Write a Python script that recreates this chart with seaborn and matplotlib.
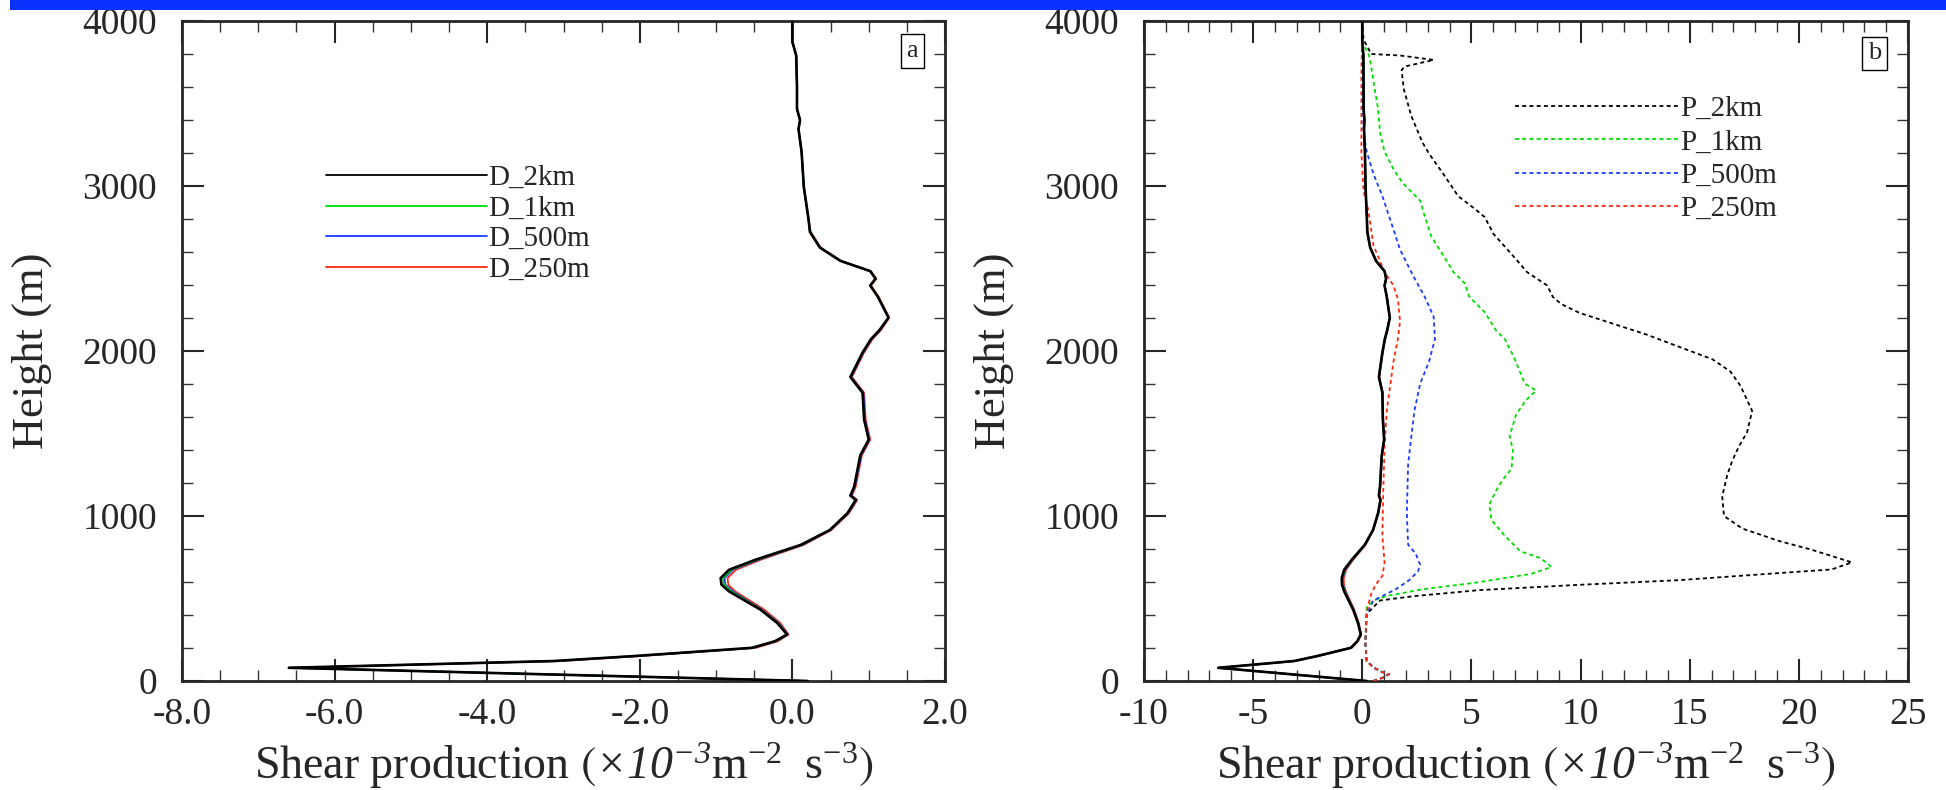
import matplotlib
matplotlib.use('Agg')
import matplotlib.pyplot as plt
from matplotlib.ticker import MultipleLocator, FormatStrFormatter
from matplotlib.patches import Rectangle
import seaborn as sns

# --- data ------------------------------------------------------------------
# D_* : dissipation-type profiles (solid), shared by both panels
d_height = [0, 80, 121, 151, 201, 241, 282, 352, 433, 543, 584, 624, 674, 734,
            825, 915, 1016, 1097, 1124, 1178, 1368, 1463, 1585, 1747, 1842,
            1991, 2072, 2126, 2202, 2329, 2397, 2438, 2484, 2546, 2627, 2722,
            2803, 2993, 3209, 3345, 3400, 3467, 3602, 3791, 3873, 4000]
d_2km = [0.20, -6.60, -3.13, -2.08, -0.53, -0.23, -0.07, -0.20, -0.42, -0.83,
         -0.93, -0.94, -0.83, -0.49, 0.11, 0.49, 0.72, 0.83, 0.76, 0.81, 0.89,
         1.00, 0.94, 0.92, 0.76, 0.92, 1.03, 1.14, 1.26, 1.12, 1.02, 1.09,
         1.02, 0.63, 0.36, 0.23, 0.21, 0.15, 0.12, 0.08, 0.10, 0.06, 0.06,
         0.05, 0.00, 0.00]
d_1km = [0.20, -6.60, -3.12, -2.07, -0.52, -0.22, -0.07, -0.19, -0.41, -0.80,
         -0.90, -0.91, -0.80, -0.47, 0.12, 0.49, 0.72, 0.83, 0.76, 0.81, 0.89,
         1.00, 0.94, 0.92, 0.76, 0.92, 1.03, 1.14, 1.26, 1.12, 1.02, 1.09,
         1.02, 0.63, 0.36, 0.23, 0.21, 0.15, 0.12, 0.08, 0.10, 0.06, 0.06,
         0.05, 0.00, 0.00]
d_500m = [0.20, -6.58, -3.10, -2.05, -0.51, -0.21, -0.06, -0.18, -0.40, -0.78,
          -0.88, -0.89, -0.78, -0.45, 0.13, 0.50, 0.73, 0.84, 0.77, 0.82, 0.90,
          1.01, 0.95, 0.93, 0.77, 0.93, 1.04, 1.15, 1.26, 1.12, 1.02, 1.09,
          1.02, 0.63, 0.36, 0.23, 0.21, 0.15, 0.12, 0.08, 0.10, 0.06, 0.06,
          0.05, 0.00, 0.00]
d_250m = [0.20, -6.55, -3.05, -2.00, -0.48, -0.19, -0.05, -0.16, -0.37, -0.75,
          -0.84, -0.85, -0.74, -0.42, 0.15, 0.51, 0.74, 0.85, 0.78, 0.83, 0.91,
          1.02, 0.96, 0.94, 0.78, 0.94, 1.05, 1.16, 1.27, 1.13, 1.03, 1.10,
          1.03, 0.64, 0.37, 0.24, 0.21, 0.15, 0.12, 0.08, 0.10, 0.06, 0.06,
          0.05, 0.00, 0.00]

# P_* : production profiles (dashed), panel b only
p2km_height = [0, 19, 41, 54, 82, 122, 231, 406, 434, 488, 514, 551, 583, 611,
               654, 676, 719, 795, 849, 924, 1000, 1119, 1248, 1335, 1421, 1508,
               1637, 1788, 1875, 1950, 2026, 2101, 2166, 2231, 2285, 2328, 2397,
               2478, 2587, 2708, 2811, 2857, 2939, 3060, 3196, 3263, 3426, 3588,
               3702, 3724, 3764, 3791, 3800, 3886, 4000]
p_2km = [0.50, 0.92, 1.22, 0.92, 0.51, 0.20, 0.14, 0.20, 0.41, 0.81, 2.34, 5.38,
         9.95, 14.50, 19.08, 21.50, 22.43, 20.60, 19.08, 17.41, 16.57, 16.49,
         16.72, 16.95, 17.25, 17.63, 17.86, 17.33, 16.87, 16.04, 14.50, 12.99,
         11.47, 9.95, 9.11, 8.73, 8.47, 7.55, 6.84, 6.02, 5.61, 5.20, 4.39, 3.78,
         3.06, 2.76, 2.24, 1.90, 1.80, 1.94, 3.27, 1.73, 0.41, 0.06, 0.00]

p1km_height = [0, 19, 41, 54, 82, 122, 231, 406, 447, 488, 515, 556, 596, 650,
               691, 745, 786, 880, 975, 1070, 1151, 1219, 1287, 1400, 1486, 1616,
               1702, 1760, 1801, 1964, 2072, 2126, 2235, 2329, 2411, 2478, 2587,
               2695, 2817, 2911, 2966, 3020, 3101, 3209, 3318, 3480, 3602, 3724,
               3791, 3873, 4000]
p_1km = [0.50, 0.92, 1.22, 0.92, 0.51, 0.20, 0.14, 0.20, 0.20, 0.51, 1.12, 2.76,
         5.20, 7.76, 8.67, 8.16, 7.24, 6.53, 5.92, 5.82, 6.12, 6.43, 6.84, 6.90,
         6.75, 7.05, 7.50, 7.96, 7.45, 6.94, 6.53, 6.12, 5.61, 4.90, 4.69, 4.18,
         3.67, 3.16, 2.86, 2.65, 2.24, 1.84, 1.43, 1.02, 0.82, 0.71, 0.55, 0.41,
         0.31, 0.00, 0.00]

p500m_height = [0, 19, 41, 54, 82, 122, 231, 406, 488, 515, 556, 610, 664, 704,
                772, 826, 1016, 1314, 1476, 1639, 1801, 1937, 2072, 2208, 2329,
                2451, 2614, 2776, 2939, 3074, 3209, 3318, 3778, 4000]
p_500m = [0.50, 0.92, 1.22, 0.92, 0.51, 0.20, 0.14, 0.20, 0.51, 0.92, 1.53, 2.14,
          2.55, 2.65, 2.45, 2.10, 2.04, 2.10, 2.24, 2.39, 2.65, 3.06, 3.33, 3.27,
          2.86, 2.35, 1.73, 1.33, 0.92, 0.51, 0.20, 0.06, 0.00, 0.00]

p250m_height = [0, 19, 41, 54, 82, 122, 231, 406, 461, 528, 583, 637, 718, 880,
                1151, 1422, 1639, 1801, 1937, 2072, 2181, 2316, 2397, 2478, 2641,
                2857, 2966, 3200, 3724, 3859, 4000]
p_250m = [0.50, 0.92, 1.22, 0.92, 0.51, 0.20, 0.14, 0.20, 0.27, 0.41, 0.61, 0.92,
          1.02, 0.92, 0.96, 1.02, 1.12, 1.29, 1.43, 1.63, 1.73, 1.63, 1.43, 1.02,
          0.51, 0.27, 0.06, -0.04, -0.04, 0.00, 0.00]

d_labels = ['D_2km', 'D_1km', 'D_500m', 'D_250m']
p_labels = ['P_2km', 'P_1km', 'P_500m', 'P_250m']
colors = ['#000000', '#00dd00', '#1a3cff', '#ff2a10']

# --- style -------------------------------------------------------------------
sns.set_style('ticks')
serif = ['Liberation Serif', 'DejaVu Serif']
plt.rcParams['font.family'] = serif
# math: "rm" slot italic (digits follow it), upright letters via \mathsf
plt.rcParams['mathtext.fontset'] = 'custom'
plt.rcParams['mathtext.rm'] = 'Liberation Serif:italic'
plt.rcParams['mathtext.it'] = 'Liberation Serif:italic'
plt.rcParams['mathtext.sf'] = 'Liberation Serif'
plt.rcParams['mathtext.fallback'] = 'stix'

fig = plt.figure(figsize=(19.46, 7.90), dpi=100)
fig.patch.set_facecolor('white')
# blue strip along the top edge
fig.add_artist(Rectangle((10 / 1946, 1 - 10 / 790), 1, 10 / 790,
                         transform=fig.transFigure, color='#0a32ff', lw=0))

ax_a = fig.add_axes([182 / 1946, 109 / 790, 763 / 1946, 660 / 790])
ax_b = fig.add_axes([1144 / 1946, 109 / 790, 764 / 1946, 660 / 790])

dash = (0, (2.2, 1.8))
d_series = [d_2km, d_1km, d_500m, d_250m]
p_series = [(p2km_height, p_2km), (p1km_height, p_1km),
            (p500m_height, p_500m), (p250m_height, p_250m)]

for ax in (ax_a, ax_b):
    # colored first, black on top
    for i in [3, 2, 1, 0]:
        sns.lineplot(x=d_series[i], y=d_height, ax=ax, sort=False,
                     estimator=None, orient='y', color=colors[i],
                     lw=1.9 if i == 0 else 1.3, zorder=5 if i == 0 else 3,
                     label=d_labels[i] if ax is ax_a else None, legend=False)

for i, (h, v) in enumerate(p_series):
    sns.lineplot(x=v, y=h, ax=ax_b, sort=False, estimator=None, orient='y',
                 color=colors[i], lw=1.3, linestyle=dash, zorder=4,
                 label=p_labels[i], legend=False)

xlabel = (r'Shear production $\left(\times10^{-3}\mathsf{m}^{\mathsf{-2}}'
          r'\ \ \mathsf{s}^{\mathsf{-3}}\right)$')

for ax, (x0, x1), major, minor, fmt in [
        (ax_a, (-8, 2), 2, 0.5, '%.1f'),
        (ax_b, (-10, 25), 5, 1, '%d')]:
    ax.set_xlim(x0, x1)
    ax.set_ylim(0, 4000)
    ax.xaxis.set_major_locator(MultipleLocator(major))
    ax.xaxis.set_minor_locator(MultipleLocator(minor))
    ax.xaxis.set_major_formatter(FormatStrFormatter(fmt))
    ax.yaxis.set_major_locator(MultipleLocator(1000))
    ax.yaxis.set_minor_locator(MultipleLocator(200))
    ax.tick_params(which='both', direction='in', top=True, right=True)
    ax.tick_params(which='major', length=16, width=1.5, labelsize=27, pad=12)
    ax.tick_params(axis='y', which='major', pad=18)
    ax.tick_params(which='minor', length=8, width=1.0, color='#333333')
    for s in ax.spines.values():
        s.set_linewidth(2.0)
        s.set_visible(True)
    ax.set_xlabel(xlabel, fontsize=33, labelpad=6)
    ax.set_ylabel('Height (m)', fontsize=32, labelpad=22)
    ax.set_facecolor('white')

# legends: long handle, text right at the line end, no frame
h_a, l_a = ax_a.get_legend_handles_labels()
order = [l_a.index(n) for n in d_labels]
leg = ax_a.legend([h_a[k] for k in order], [l_a[k] for k in order],
                  loc='upper left', bbox_to_anchor=(0.189, 0.782),
                  frameon=False, fontsize=21, handlelength=5.5,
                  handletextpad=0.05, labelspacing=0.14, borderpad=0,
                  borderaxespad=0)
for line in leg.get_lines():
    line.set_linewidth(1.3)

h_b, l_b = ax_b.get_legend_handles_labels()
leg = ax_b.legend(h_b, l_b, loc='upper left', bbox_to_anchor=(0.486, 0.887),
                  frameon=False, fontsize=21, handlelength=5.6,
                  handletextpad=0.05, labelspacing=0.24, borderpad=0,
                  borderaxespad=0)
for line in leg.get_lines():
    line.set_linewidth(1.3)

for ax, tag, (tx, ty) in [(ax_a, 'a', (0.957, 0.955)), (ax_b, 'b', (0.956, 0.951))]:
    ax.text(tx, ty, tag, transform=ax.transAxes, ha='center', va='center',
            fontsize=19, zorder=10,
            bbox=dict(boxstyle='square,pad=0.22', fc='white', ec='black', lw=1.0))

fig.savefig('out.png', dpi=100)
